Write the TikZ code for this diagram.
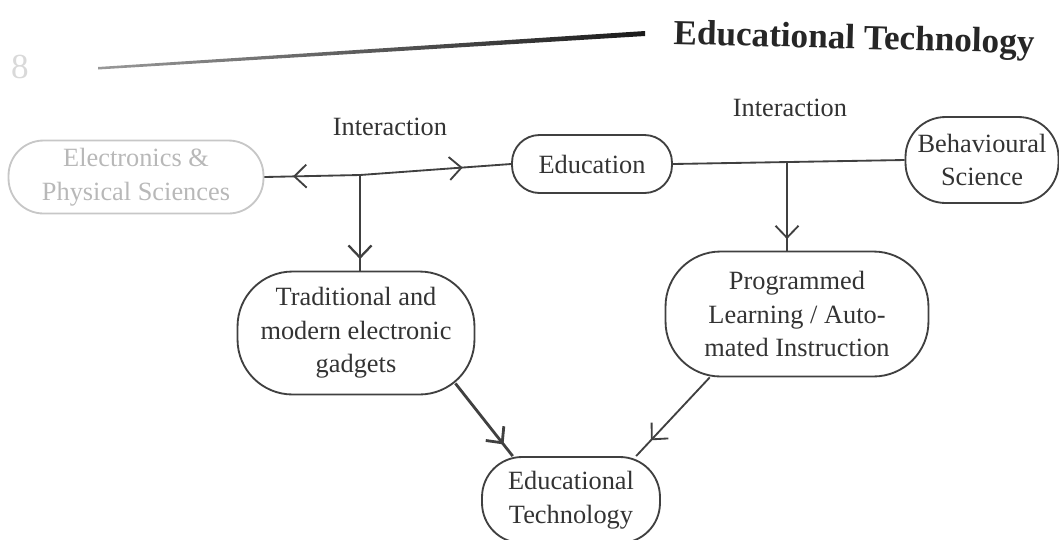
\documentclass[tikz,border=0pt]{standalone}
\usepackage{fontspec}
\setmainfont{Liberation Serif}
\usetikzlibrary{arrows.meta}
\usetikzlibrary{positioning}
\usetikzlibrary{decorations.markings}
\usetikzlibrary{calc}

\begin{document}
\begin{tikzpicture}[x=0.02cm, y=-0.02cm, >={Straight Barb[length=2.4mm,width=4.6mm]},
    box/.style={draw=black!75, line width=1.05pt, rounded corners=#1, align=center,
      text=black!80, font=\fontsize{15}{19}\selectfont, inner sep=0pt},
    box/.default=0.6cm,
    faded/.style={draw=black!22, text=black!28},
    lbl/.style={text=black!80, font=\fontsize{15}{19}\selectfont},
    lnk/.style={draw=black!75, line width=1.05pt},
    arrowat/.style={postaction={decorate},
      decoration={markings, mark=at position #1 with {\arrow{>}}}}]
      \useasboundingbox (0,0) rectangle (1059,539);
      % running head
      \shade[left color=black!40, right color=black!90] (98,67) -- (645,31) -- (645,36) -- (98,69.5) -- cycle;
      \node[font=\fontsize{20}{24}\selectfont\bfseries, text=black!85, rotate=-1.5, anchor=base west, inner sep=0pt]
        (hdr) at (673,44) {Educational Technology};
      \node[font=\fontsize{20}{24}\selectfont, text=black!15] (pgno) at (20,67) {8};
      % top row
      \node[box=0.7cm, faded, minimum width=5.1cm, minimum height=1.46cm]  (elec) at (136,177) {Electronics \&\\Physical Sciences};
      \node[box=0.55cm, minimum width=3.2cm, minimum height=1.16cm]        (edu)  at (592,164) {Education};
      \node[box=0.8cm, minimum width=3.06cm, minimum height=1.72cm]        (beh)  at (982,160) {Behavioural\\Science};
      \node[lbl] (intl) at (390,127) {Interaction};
      \node[lbl] (intr) at (790,108) {Interaction};
      % second row
      \node[box=1.1cm, minimum width=4.74cm, minimum height=2.46cm] (trad) at (356,333) {Traditional and\\modern electronic\\gadgets};
      \node[box=1.1cm, minimum width=5.26cm, minimum height=2.5cm]  (prog) at (797,314) {Programmed\\Learning / Auto-\\mated Instruction};
      \node[box=0.8cm, minimum width=3.56cm, minimum height=1.72cm] (edt)  at (571,500) {Educational\\Technology};
      % junctions
      \coordinate (jl) at (360,175);
      \coordinate (jr) at (787,162);
      \draw[lnk, arrowat=0.7]  (jl) -- (elec.east);
      \draw[lnk, arrowat=0.68] (jl) -- (edu.west);
      \draw[lnk] (edu.east) -- (beh.west);
      \draw[lnk, line width=1.3pt, arrowat=0.88] (jl) -- (jl |- trad.north);
      \draw[lnk, arrowat=0.87] (jr) -- (jr |- prog.north);
      \draw[lnk, line width=1.6pt, arrowat=0.84] ($(trad.south east)+(-20,-12)$) -- (edt.143);
      \draw[lnk, arrowat=0.8] (prog.-144) -- (edt.34);
\end{tikzpicture}
\end{document}
